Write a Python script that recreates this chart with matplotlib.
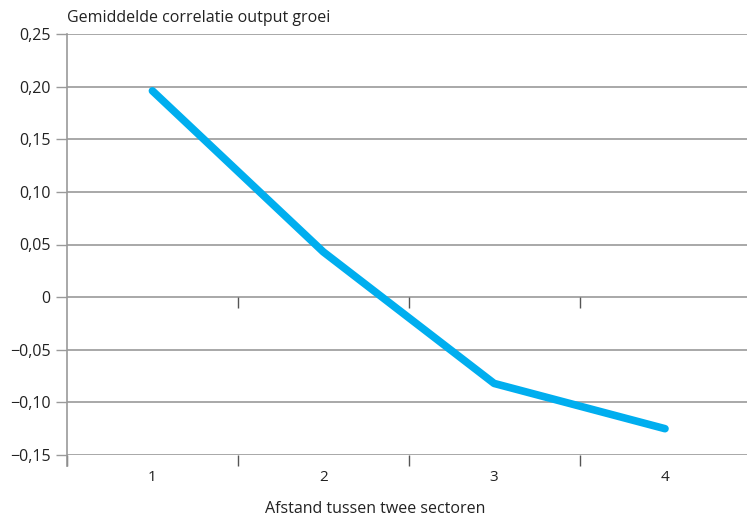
import matplotlib.pyplot as plt

# data
afstand = [1, 2, 3, 4]
correlatie = [0.196, 0.043, -0.082, -0.125]
y_ticks = [-0.15, -0.10, -0.05, 0, 0.05, 0.10, 0.15, 0.20, 0.25]
y_labels = ['\u22120,15', '\u22120,10', '\u22120,05', '0', '0,05', '0,10', '0,15', '0,20', '0,25']

plt.rcParams['font.family'] = ['Open Sans', 'DejaVu Sans']

fig = plt.figure(figsize=(7.47, 5.20), dpi=100)
ax = fig.add_axes([67 / 747, 1 - 455 / 520, 1 - 67 / 747, (455 - 34) / 520])

grid_col = '#9a9a9a'
for y in y_ticks:
    ax.axhline(y, color=grid_col, lw=1.2, zorder=1)

ax.plot(afstand, correlatie, color='#00aeef', lw=5.5, solid_capstyle='round',
        solid_joinstyle='round', zorder=3)

ax.set_xlim(0.5, 4.48)
ax.set_ylim(-0.15, 0.25)

for s in ['top', 'right', 'bottom']:
    ax.spines[s].set_visible(False)
ax.spines['left'].set_color(grid_col)
ax.spines['left'].set_linewidth(1.2)
ax.spines['left'].set_bounds(-0.16, 0.25)

# small category separators on the zero line and the bottom line
bounds = [1.5, 2.5, 3.5]
ax.vlines(bounds, 0, -0.0105, color='#555555', lw=1, zorder=2)
ax.vlines([0.5, 1.5, 2.5, 3.5], -0.15, -0.16, color='#555555', lw=1, zorder=2, clip_on=False)

ax.set_xticks(afstand)
ax.set_xticklabels([str(a) for a in afstand])
ax.tick_params(axis='x', length=0, pad=11, labelsize=11, colors='#222222')
ax.set_yticks(y_ticks)
ax.set_yticklabels(y_labels)
ax.tick_params(axis='y', length=8, width=1, pad=4, labelsize=11.5, colors='#222222')
ax.tick_params(axis='y', color=grid_col)

fig.text(67 / 747, 1 - 18 / 520, 'Gemiddelde correlatie output groei', fontsize=11.5,
         color='#222222', va='center', ha='left')
fig.text(375 / 747, 1 - 509 / 520, 'Afstand tussen twee sectoren', fontsize=11.5,
         color='#222222', va='center', ha='center')

fig.savefig('out.png', dpi=100)
